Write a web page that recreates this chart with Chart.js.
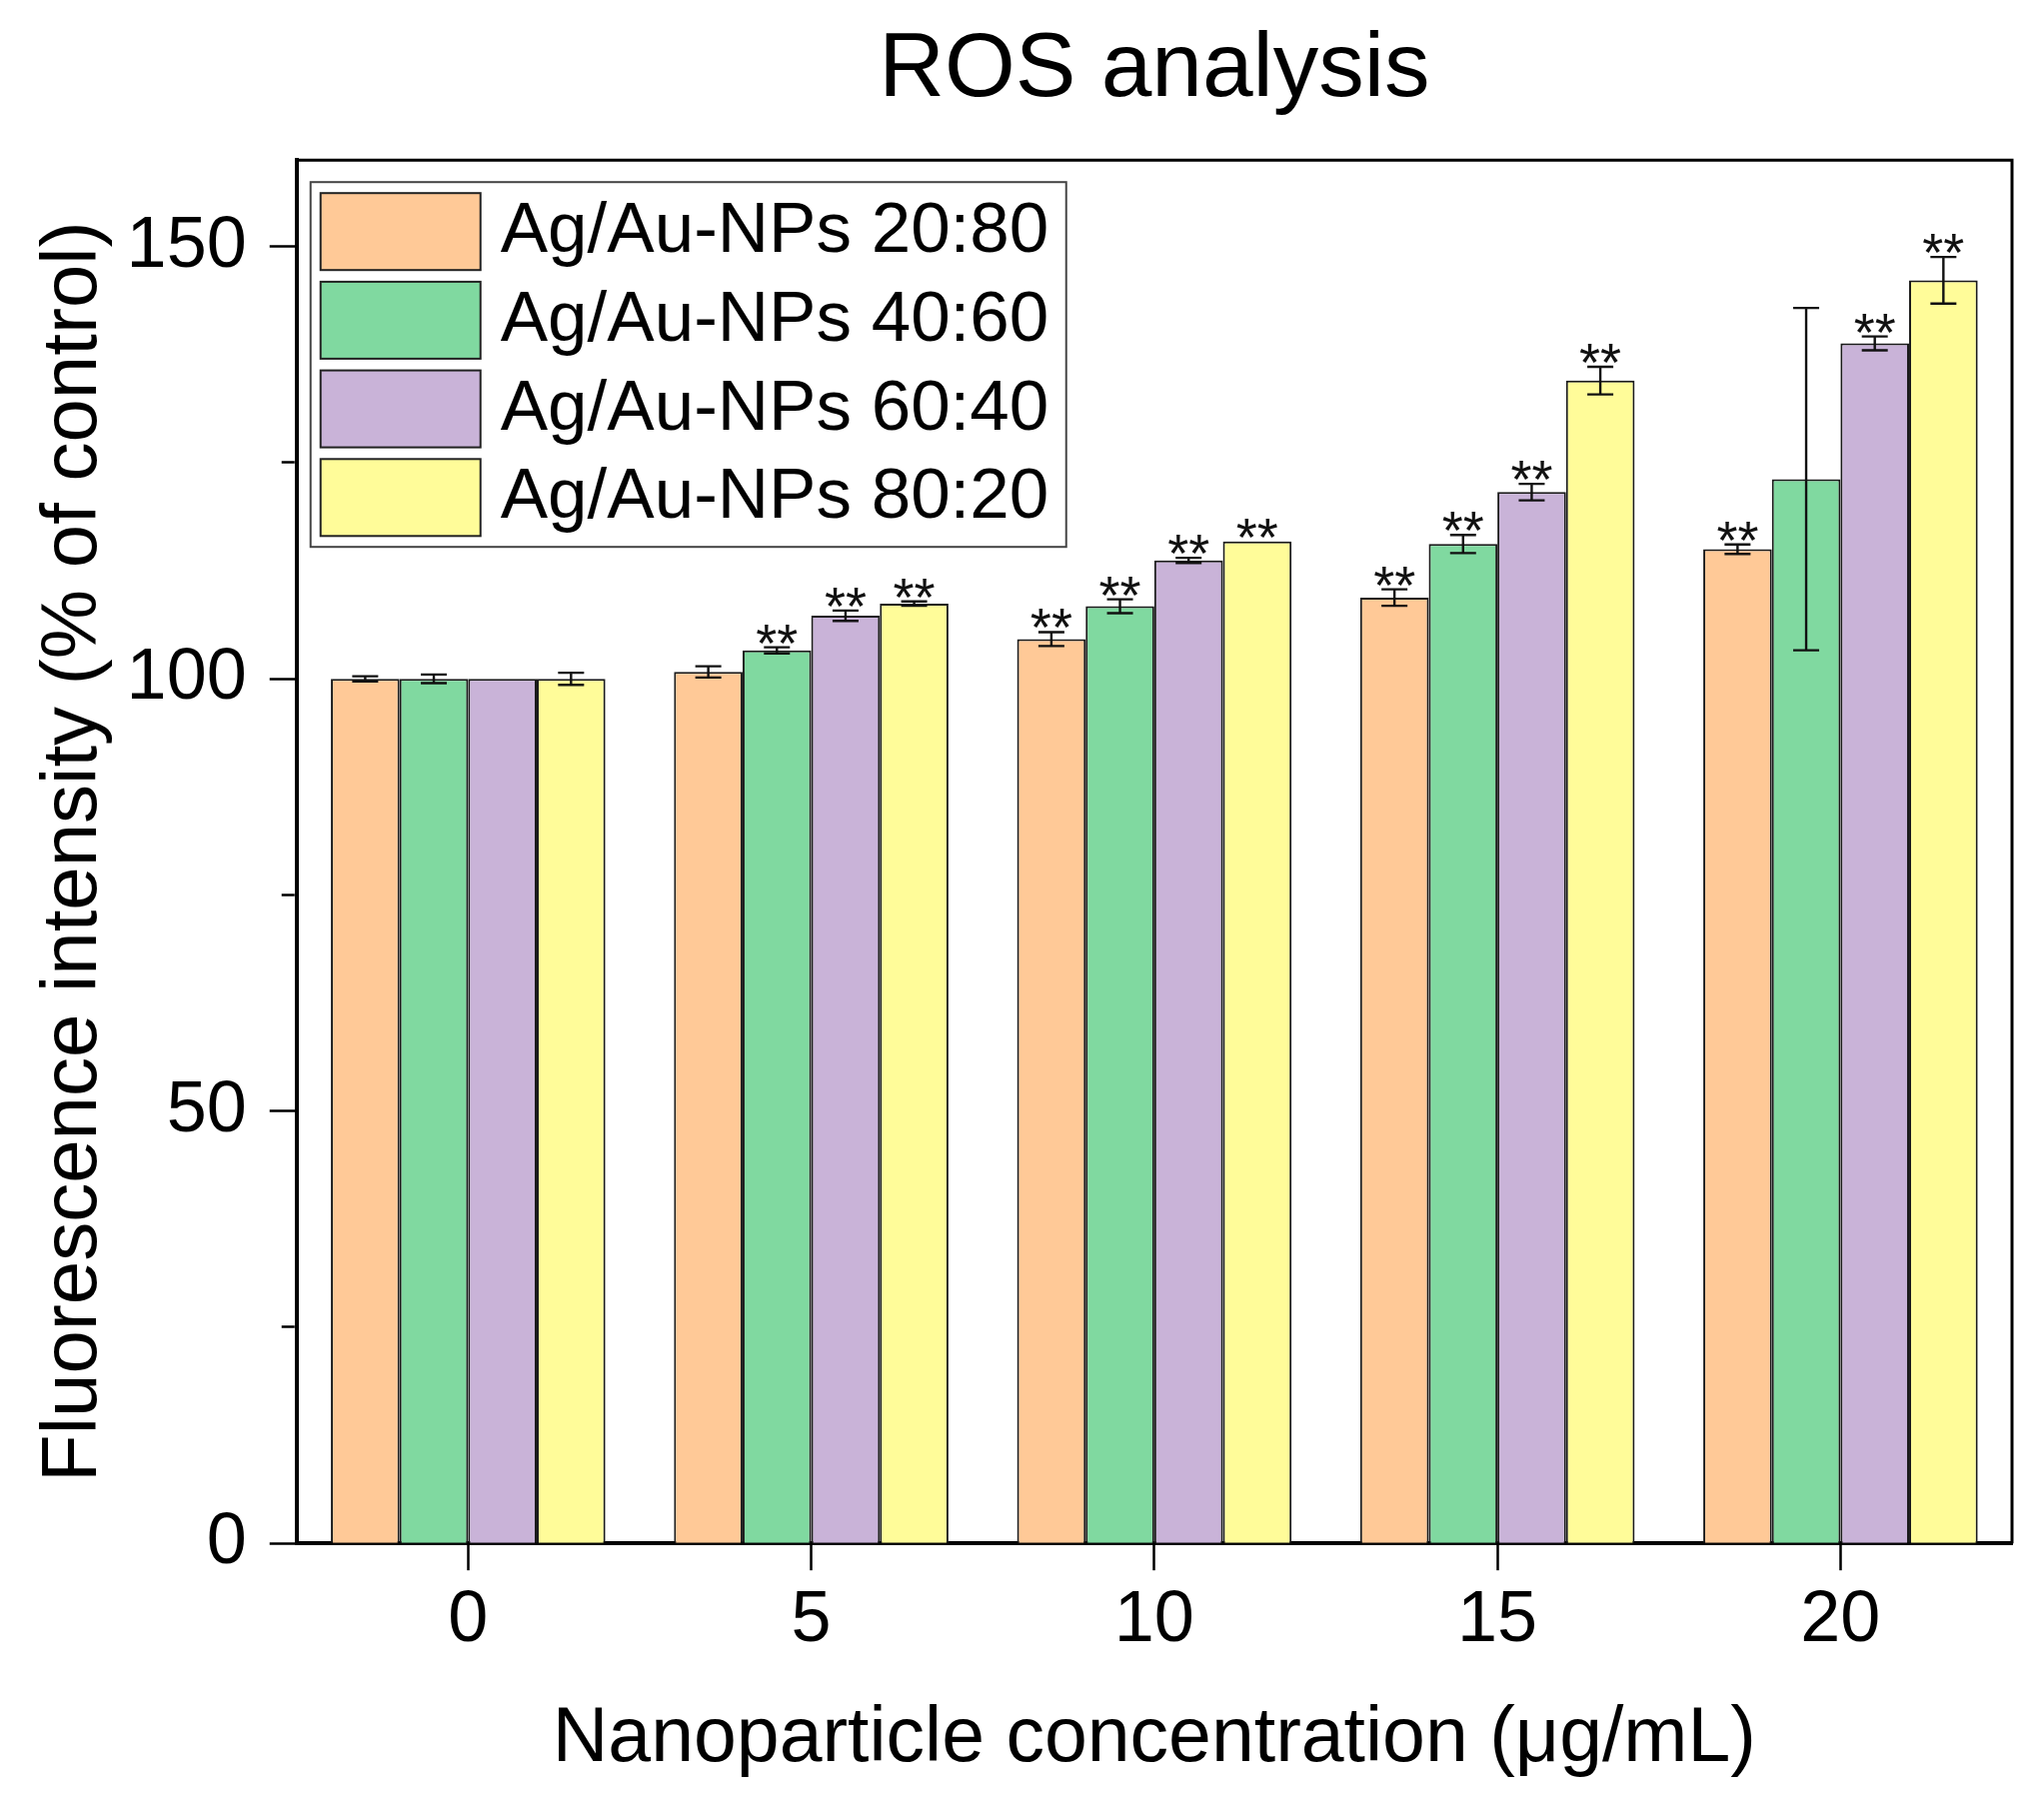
<!DOCTYPE html>
<html>
<head>
<meta charset="utf-8">
<title>ROS analysis</title>
<script src="https://cdn.jsdelivr.net/npm/chart.js@4.4.1/dist/chart.umd.min.js"></script>
<style>
  html, body { margin: 0; padding: 0; background: #ffffff; }
  canvas { display: block; }
</style>
</head>
<body>
<canvas id="rosChart" width="2045" height="1815"></canvas>
<script>
// data (% of control)
const concentrations = ['0', '5', '10', '15', '20'];
const seriesLabels = ['Ag/Au-NPs 20:80', 'Ag/Au-NPs 40:60', 'Ag/Au-NPs 60:40', 'Ag/Au-NPs 80:20'];

const ratio2080 = [100, 100.8, 104.6, 109.4, 115.0];
const ratio4060 = [100, 103.3, 108.4, 115.6, 123.1];
const ratio6040 = [100, 107.3, 113.7, 121.6, 138.8];
const ratio8020 = [100, 108.7, 115.9, 134.5, 146.1];

const err2080 = [0.3, 0.65, 0.8, 0.95, 0.55];
const err4060 = [0.5, 0.35, 0.8, 1.05, 19.8];
const err6040 = [0, 0.6, 0.3, 0.95, 0.8];
const err8020 = [0.7, 0.25, 0, 1.6, 2.7];

// "**" markers (p < 0.01)
const sig2080 = [false, false, true, true, true];
const sig4060 = [false, true, true, true, false];
const sig6040 = [false, true, true, true, true];
const sig8020 = [false, true, true, true, true];

const yTickLabels = [0, 50, 100, 150];
const yMax = 160;

const colors = ['#FFC997', '#80D9A0', '#C9B3D8', '#FFFC99'];
const FONT = '"Liberation Sans", Arial, sans-serif';

const errorBarPlugin = {
    id: 'errorBars',
    afterDatasetsDraw(chart) {
        const ctx = chart.ctx;
        const yScale = chart.scales.y;
        ctx.save();
        chart.data.datasets.forEach((ds, i) => {
            const meta = chart.getDatasetMeta(i);
            meta.data.forEach((bar, j) => {
                const v = ds.data[j];
                const e = ds.errors[j];
                let top = yScale.getPixelForValue(v);
                if (e > 0) {
                    const yHi = yScale.getPixelForValue(v + e);
                    const yLo = yScale.getPixelForValue(v - e);
                    ctx.strokeStyle = '#111';
                    ctx.lineWidth = 2.4;
                    ctx.beginPath();
                    ctx.moveTo(bar.x, yHi); ctx.lineTo(bar.x, yLo);
                    ctx.moveTo(bar.x - 13, yHi); ctx.lineTo(bar.x + 13, yHi);
                    ctx.moveTo(bar.x - 13, yLo); ctx.lineTo(bar.x + 13, yLo);
                    ctx.stroke();
                    top = yHi;
                }
                if (ds.stars[j]) {
                    ctx.fillStyle = '#111';
                    ctx.font = '54px ' + FONT;
                    ctx.textAlign = 'center';
                    ctx.textBaseline = 'alphabetic';
                    ctx.fillText('**', bar.x, top + 14);
                }
            });
        });
        ctx.restore();
    }
};

// top/right frame of the plot box
const framePlugin = {
    id: 'frame',
    afterDraw(chart) {
        const {ctx, chartArea} = chart;
        ctx.save();
        ctx.strokeStyle = '#000';
        ctx.lineWidth = 3;
        ctx.beginPath();
        ctx.moveTo(chartArea.left, chartArea.top);
        ctx.lineTo(chartArea.right, chartArea.top);
        ctx.lineTo(chartArea.right, chartArea.bottom);
        ctx.stroke();
        ctx.restore();
    }
};

// boxed legend inside the plot, top-left
const boxedLegend = {
    id: 'boxedLegend',
    afterDraw(chart) {
        const {ctx, chartArea} = chart;
        const x0 = chartArea.left + 14;
        const y0 = chartArea.top + 22;
        ctx.save();
        ctx.fillStyle = '#fff';
        ctx.fillRect(x0, y0, 756, 365);
        ctx.strokeStyle = '#444';
        ctx.lineWidth = 2;
        ctx.strokeRect(x0, y0, 756, 365);
        chart.data.datasets.forEach((ds, i) => {
            const sy = y0 + 11 + i * 88.7;
            ctx.fillStyle = ds.backgroundColor;
            ctx.fillRect(x0 + 10, sy, 160, 77);
            ctx.strokeStyle = '#222';
            ctx.strokeRect(x0 + 10, sy, 160, 77);
            ctx.fillStyle = '#000';
            ctx.font = '71px ' + FONT;
            ctx.textAlign = 'left';
            ctx.textBaseline = 'middle';
            ctx.fillText(ds.label, x0 + 190, sy + 39.5);
        });
        ctx.restore();
    }
};

function makeSet(i, values, errors, stars) {
    return {
        label: seriesLabels[i],
        data: values,
        errors: errors,
        stars: stars,
        backgroundColor: colors[i],
        borderColor: '#1a1a1a',
        borderWidth: 2,
        categoryPercentage: 0.8,
        barPercentage: 1.0
    };
}

const ctx = document.getElementById('rosChart').getContext('2d');
new Chart(ctx, {
    type: 'bar',
    data: {
        labels: concentrations,
        datasets: [
            makeSet(0, ratio2080, err2080, sig2080),
            makeSet(1, ratio4060, err4060, sig4060),
            makeSet(2, ratio6040, err6040, sig6040),
            makeSet(3, ratio8020, err8020, sig8020)
        ]
    },
    options: {
        responsive: false,
        animation: false,
        devicePixelRatio: 1,
        layout: { padding: { left: 0, right: 32, top: 0, bottom: 0 } },
        plugins: {
            legend: { display: false },
            tooltip: { enabled: false },
            title: {
                display: true,
                text: 'ROS analysis',
                fullSize: false,
                color: '#000',
                font: { family: FONT, size: 91, weight: 'normal' },
                padding: { top: 16, bottom: 35 }
            }
        },
        scales: {
            x: {
                offset: true,
                border: { display: true, color: '#000', width: 4 },
                grid: {
                    offset: false,
                    drawOnChartArea: false,
                    tickLength: 27,
                    tickWidth: 2.5,
                    tickColor: '#000'
                },
                ticks: {
                    color: '#000',
                    padding: 8,
                    font: { family: FONT, size: 72 }
                },
                title: {
                    display: true,
                    text: 'Nanoparticle concentration (μg/mL)',
                    color: '#000',
                    font: { family: FONT, size: 77 },
                    padding: { top: 21, bottom: 28 }
                }
            },
            y: {
                min: 0,
                max: yMax,
                border: { display: true, color: '#000', width: 4 },
                grid: {
                    drawOnChartArea: false,
                    tickLength: 27,
                    tickWidth: 2.5,
                    tickColor: '#000',
                    // minor ticks: only the inner half of the tick line is drawn
                    tickBorderDash: (c) => yTickLabels.includes(c.tick.value) ? [] : [13, 12],
                    tickBorderDashOffset: (c) => yTickLabels.includes(c.tick.value) ? 0 : 13
                },
                ticks: {
                    stepSize: 25,
                    includeBounds: false,
                    autoSkip: false,
                    color: '#000',
                    padding: 23,
                    font: { family: FONT, size: 72 },
                    callback: (value) => yTickLabels.includes(value) ? value : ''
                },
                title: {
                    display: true,
                    text: 'Fluorescence intensity (% of control)',
                    color: '#000',
                    font: { family: FONT, size: 78 },
                    padding: { top: 28, bottom: -18 }
                }
            }
        }
    },
    plugins: [errorBarPlugin, framePlugin, boxedLegend]
});
</script>
</body>
</html>
